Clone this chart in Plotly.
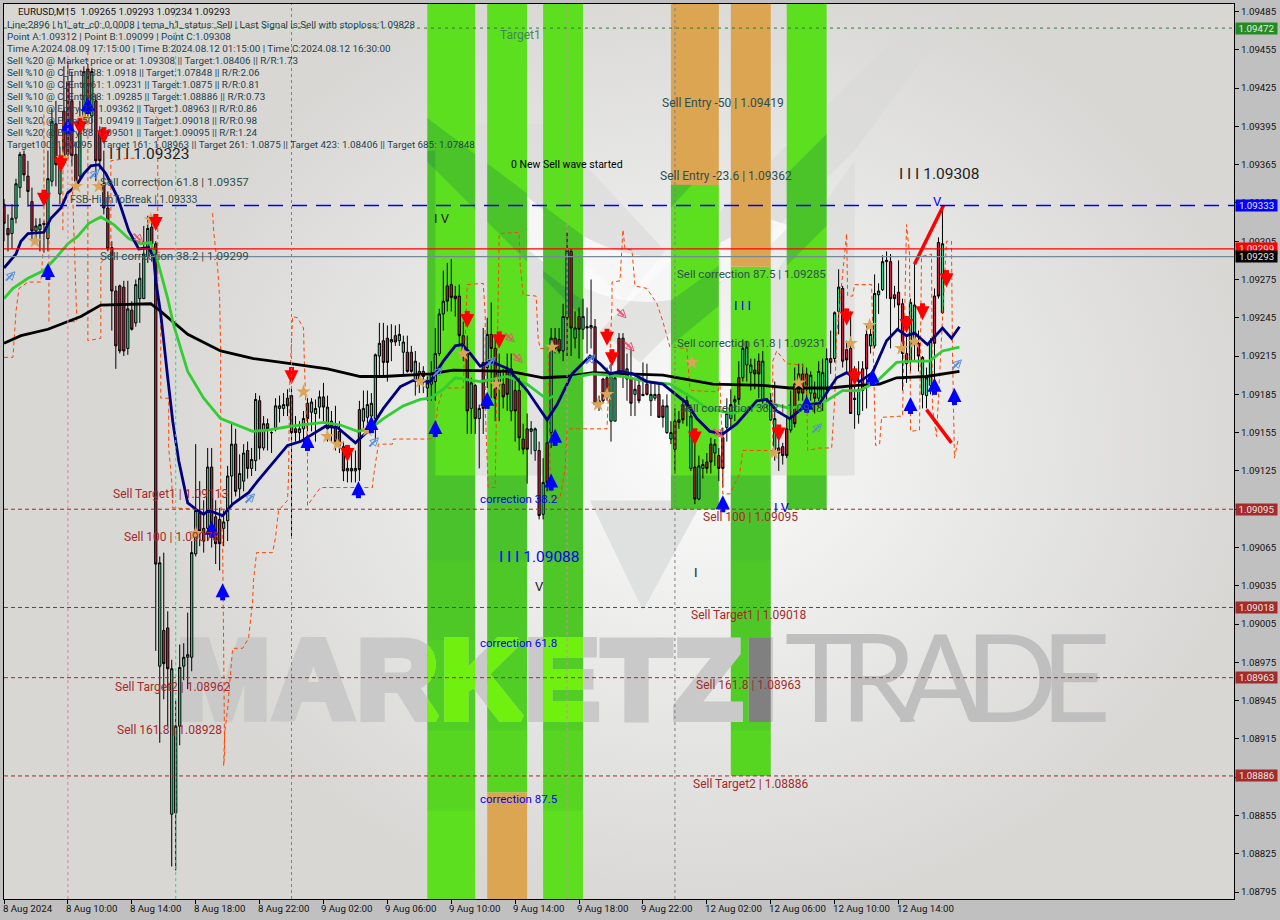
import base64
import plotly.graph_objects as go

# ---------- chart values (prices are stored as points above BASE, x as bar number) ----------
BASE = 1.08
highs = [1338,1326,1334,1354,1375,1376,1368,1347,1323,1323,1321,1376,1409,1415,1379,1442,1446,1438,1383,1415,1442,1444,1441,1420,1395,1376,1344,1305,1270,1271,
1274,1274,1258,1275,1288,1317,1325,1325,1305,1058,1061,1015,977,945,989,990,1014,1070,1146,1117,1102,1143,1143,1102,1096,1094,1129,1162,1158,1138,
1146,1148,1143,1186,1184,1168,1166,1156,1182,1184,1186,1189,1190,1168,1164,1172,1182,1182,1181,1188,1194,1184,1172,1176,1164,1148,1137,1139,1141,1180,
1188,1188,1186,1217,1241,1241,1239,1240,1239,1240,1231,1231,1223,1219,1210,1207,1199,1211,1237,1252,1282,1288,1291,1270,1271,1242,1231,1198,1193,1177,
1237,1245,1257,1232,1217,1205,1217,1217,1198,1198,1162,1170,1164,1159,1148,1135,1164,1237,1237,1237,1256,1312,1299,1250,1253,1260,1253,1275,1244,1184,
1198,1206,1209,1201,1233,1233,1217,1221,1198,1198,1210,1209,1195,1193,1193,1181,1185,1164,1174,1172,1182,1186,1177,1154,1137,1134,1139,1151,1150,1143,
1159,1182,1189,1184,1211,1228,1227,1213,1213,1217,1219,1182,1186,1195,1154,1147,1167,1188,1206,1209,1209,1206,1203,1195,1211,1213,1221,1235,1250,1283,
1270,1227,1250,1207,1211,1211,1240,1242,1279,1272,1294,1297,1295,1270,1290,1260,1232,1260,1287,1235,1215,1206,1229,1268,1308,1332,1250,1217,1266,1293]
tops = [1334,1315,1323,1350,1373,1373,1356,1336,1317,1318,1319,1354,1399,1397,1370,1407,1430,1415,1373,1397,1438,1440,1438,1415,1391,1350,1331,1300,1266,1270,
1269,1252,1251,1271,1276,1295,1315,1316,1303,1053,1000,1002,970,925,971,979,981,1061,1094,1092,1080,1128,1128,1089,1087,1085,1121,1146,1146,1123,
1139,1141,1134,1181,1180,1162,1162,1155,1176,1176,1177,1182,1184,1158,1158,1166,1178,1179,1174,1183,1183,1175,1164,1160,1156,1144,1127,1127,1127,1173,
1174,1177,1178,1216,1225,1227,1229,1228,1231,1232,1226,1218,1218,1211,1203,1203,1194,1201,1217,1248,1258,1270,1271,1262,1262,1231,1217,1194,1192,1174,
1210,1232,1232,1221,1203,1193,1205,1205,1188,1188,1150,1158,1158,1158,1141,1116,1147,1229,1229,1228,1246,1298,1297,1237,1246,1246,1238,1239,1238,1180,
1197,1198,1201,1198,1229,1229,1205,1198,1189,1192,1185,1193,1185,1185,1185,1176,1176,1155,1164,1165,1177,1180,1168,1128,1129,1130,1132,1146,1146,1137,
1151,1170,1177,1181,1198,1221,1222,1208,1204,1211,1211,1178,1180,1166,1143,1144,1158,1167,1193,1201,1201,1201,1200,1186,1203,1202,1213,1213,1249,1269,
1268,1220,1221,1182,1189,1205,1232,1232,1264,1266,1289,1290,1289,1263,1265,1256,1217,1257,1255,1225,1214,1198,1227,1262,1304,1303,1249,1210,1264,1293]
bottoms = [1319,1310,1311,1323,1347,1357,1344,1313,1313,1314,1318,1307,1352,1365,1342,1372,1373,1372,1352,1356,1401,1415,1403,1368,1368,1331,1299,1266,1223,1219,
1219,1221,1236,1241,1260,1260,1293,1303,1052,972,974,970,856,857,925,972,979,979,1060,1078,1070,1080,1082,1068,1068,1080,1086,1121,1109,1111,
1117,1127,1127,1133,1143,1143,1158,1155,1159,1174,1174,1176,1155,1155,1155,1158,1166,1171,1170,1175,1175,1158,1160,1148,1145,1125,1125,1125,1125,1126,
1164,1167,1168,1166,1215,1210,1210,1226,1226,1227,1218,1203,1203,1195,1195,1199,1190,1193,1195,1217,1248,1258,1261,1260,1231,1217,1172,1174,1166,1166,
1174,1206,1221,1182,1193,1183,1185,1172,1172,1151,1142,1142,1156,1141,1090,1091,1116,1155,1221,1219,1219,1245,1237,1229,1236,1236,1237,1237,1177,1177,
1180,1186,1164,1164,1203,1201,1197,1178,1185,1180,1184,1185,1180,1182,1167,1167,1155,1150,1142,1163,1165,1176,1127,1103,1103,1127,1127,1132,1139,1127,
1127,1159,1166,1179,1181,1198,1208,1202,1201,1201,1180,1177,1165,1142,1139,1137,1137,1157,1162,1186,1186,1192,1186,1182,1182,1182,1189,1210,1213,1250,
1211,1212,1170,1181,1169,1188,1205,1223,1223,1263,1267,1289,1260,1260,1255,1217,1209,1211,1227,1215,1185,1184,1192,1225,1262,1249,1185,1185,1211,1264]
lows = [1305,1297,1299,1319,1339,1352,1332,1305,1305,1297,1296,1297,1348,1348,1334,1364,1369,1364,1348,1352,1391,1401,1391,1352,1361,1326,1297,1235,1205,1217,
1215,1216,1235,1238,1241,1260,1288,1289,984,912,946,925,815,812,910,961,954,968,1058,1066,1061,1070,1065,1052,1047,1066,1070,1098,1105,1102,
1109,1119,1121,1125,1134,1141,1141,1139,1156,1163,1168,1168,1074,1148,1148,1145,1156,1156,1148,1166,1164,1148,1148,1141,1139,1117,1116,1116,1116,1117,
1158,1160,1160,1148,1199,1199,1195,1211,1223,1223,1199,1202,1202,1184,1186,1186,1180,1180,1180,1215,1235,1250,1250,1246,1223,1211,1154,1154,1154,1127,
1154,1190,1182,1164,1164,1174,1172,1164,1148,1141,1138,1115,1138,1133,1087,1087,1109,1143,1217,1217,1211,1215,1215,1221,1213,1228,1217,1221,1177,1172,
1178,1180,1148,1164,1201,1190,1180,1168,1168,1178,1184,1184,1168,1180,1167,1159,1154,1146,1123,1158,1162,1160,1125,1099,1102,1119,1123,1123,1129,1117,
1112,1148,1159,1164,1177,1195,1195,1188,1189,1182,1174,1174,1164,1133,1125,1130,1135,1155,1159,1180,1180,1180,1180,1170,1174,1172,1180,1201,1210,1232,
1206,1201,1170,1158,1162,1172,1174,1217,1221,1248,1266,1260,1221,1253,1235,1188,1194,1203,1211,1203,1174,1174,1185,1193,1260,1248,1168,1147,1210,1234]
colors_ud = ("RRGGGRRRGGGGGRGRRRRGGRGRRRRRRRRGRGGGGRRGRRGGGGGGGRRGRRRGGGRGGRGGRGRGGGGRRRGGRGGGRGRRRRGRGRGG"
             "GGGRRGRGGRRGRRGGGGGRRRRRRGRGRGRRGRRGRRRRGGRGRGRRGGRGRGGGRRRRGGRRGRGRGRGGRRGGRRRRGRGGRRGRRGGGRGGG"
             "RRGGGGRRRGRRRRGRGGGRGGRRRRGRRGGGGGRRRRRGGRGGGRRG")

navy_x = [0,3,4.25,6,10,11.75,14.25,16,18,20,21.75,23.75,25.5,28.5,31.25,33.75,36.25,37.5,38,39.25,41,42.25,43.75,46,48.5,50,51.25,54.75,57.25,61.25,63.5,71,74.25,78.5,80.5,83.5,88,91.75,95,99.25,102.5,106.75,110,113,114.75,116.75,119.25,121.75,126.25,131,133.5,136,138.5,142.25,146.75,149.25,151.75,154.25,157.5,161,165,171,173.5,176.75,180,183.5,188.5,191,193.5,196.75,201,204.25,208.5,211,214.25,217.5,221,223.75,226,228,231.25,235,237.25,239.25]
navy_y = [1284,1295,1305,1311,1312,1323,1331,1343,1348,1358,1364,1365,1358,1339,1313,1299,1300,1292,1274,1248,1198,1164,1133,1100,1094,1091,1094,1090,1099,1108,1117,1145,1148,1156,1160,1159,1147,1158,1174,1191,1196,1195,1211,1223,1224,1217,1207,1211,1205,1188,1177,1165,1177,1201,1215,1209,1201,1203,1201,1195,1193,1178,1166,1156,1154,1162,1180,1181,1172,1166,1177,1178,1198,1202,1195,1202,1227,1236,1231,1233,1224,1237,1229,1238]
green_x = [0,2.25,6,10,13,16,18.5,21.25,24.25,27.5,31.25,34.25,36.75,38.5,41,42.5,46,50,54.25,57.5,62.25,66,71.75,80,84.25,88.5,91.75,95,100,104.25,106.75,110,113,119.25,126,131,136,138.5,141.75,147.5,155,161,166.75,172.5,176,182.5,186,191.75,196.75,201.75,206,210,214.25,218.5,223.5,227.5,231.75,235,239.25]
green_y = [1260,1268,1276,1282,1292,1303,1309,1319,1324,1318,1307,1303,1304,1289,1260,1239,1203,1182,1166,1162,1156,1157,1160,1163,1161,1156,1158,1166,1176,1181,1182,1189,1198,1195,1199,1193,1181,1185,1198,1201,1199,1195,1193,1182,1174,1170,1174,1178,1174,1177,1180,1188,1188,1195,1210,1211,1211,1219,1222]
black_x = [0,4.25,11,15,19.25,24.25,36.75,39.25,46,54.25,62.5,71.75,81,89.25,95,106.75,112.5,126.75,135,141,147.5,165,177.5,190,196.75,206.75,213.5,219.25,223.5,231,239.25]
black_y = [1225,1231,1236,1241,1246,1255,1256,1250,1232,1219,1213,1209,1205,1199,1199,1201,1204,1203,1198,1199,1202,1200,1193,1192,1190,1190,1192,1193,1198,1199,1203]

stop_x = [0,2.25,3,3.75,6,9.25,10,10,None,11.25,11.25,None,14.75,14.75,None,16.75,18.25,16.75,None,21,21,24.25,24.25,26.75,26.75,31,33,None,36.25,38.5,38.5,39.25,39.25,41.25,41.25,42,42.25,48.5,None,
52.25,52.5,53.5,54,54.25,54.25,54.75,55,55.25,55,55.25,56,56.75,57.25,59.75,61.25,62.25,62.5,63.25,67.25,68,68.75,71,71.25,71.5,72.25,73.5,75,75.25,76,76,79.25,92.25,92.5,93.75,97.25,97.5,106.75,
108,108.5,110,115,116,120,120.5,120.5,121.25,123,124,129,129.25,130,133.25,133.75,134.25,136.25,136.75,137.25,139.25,140.5,141,151,152.25,152.25,154.25,155,155.5,157.25,158,161,163.5,165,166.75,171,171.75,172.25,178.75,179.25,179.75,180,181.75,184.25,185,192.5,192.5,193.5,196,200,201,201.25,204.25,207.25,208,208.5,211,211.25,212.5,213,217.25,217.5,218,218.25,219.25,219.75,225,226,226.75,227,229.25,229.75,232.25,232.5,233.5,236,237.25,237.5,238,239]
stop_y = [1214,1214,1250,1268,1273,1273,1309,1407,None,1242,1313,None,1399,1313,None,1383,1242,1242,None,1454,1227,1229,1288,1297,1368,1370,1370,None,1412,1401,1258,1248,1182,1182,1143,1117,1096,1095,None,
1327,1313,1284,1260,1219,1102,1068,963,903,894,919,939,966,986,986,994,1023,1040,1061,1061,1073,1094,1102,1120,1190,1246,1245,1237,1206,1143,1098,1112,1112,1120,1146,1146,1150,1150,
1151,1174,1190,1190,1271,1272,1248,1174,1112,1112,1311,1312,1287,1263,1262,1229,1221,1221,1120,1103,1104,1127,1158,1158,1256,1273,1274,1314,1299,1298,1270,1268,1256,1242,1222,1221,1189,1188,1187,1195,1154,1107,1107,1123,1141,1141,1211,1219,1209,1208,1190,1141,1143,1143,1180,1232,1311,1262,1262,1271,1271,1237,1180,1145,1146,1167,1168,1318,1295,1156,1157,1293,1295,1174,1152,1305,1305,1219,1135,1151]

sell_x = [10,14.25,19,25,38,72,86,116,124,151,152.25,173,194,211,213,226,230,236]
sell_y = [1338,1365,1394,1387,1319,1199,1138,1243,1227,1229,1213,1151,1154,1245,1198,1239,1249,1275]
buy_x = [11,16,21,52,54.75,76,88.75,92,108,121,138,137,180,201,217.5,227,233,238]
buy_y = [1282,1396,1412,1080,1031,1148,1111,1162,1159,1181,1152,1117,1100,1178,1199,1177,1192,1184]
hollow_up_x = [1.75,22.75,61.75,92.75,108.75,122,147,203.75,238.75]
hollow_up_y = [1278,1358,1104,1148,1203,1211,1213,1159,1209]
hollow_dn_x = [33.75,126.75,128.75,154.75,156.75,179]
hollow_dn_y = [1307,1229,1213,1248,1222,1154]
star_x = [7.75,14.75,18,20,23.75,36.75,48,75,81,83.5,91,104.25,115,123.25,137.25,148.75,151,172.25,192.75,199,216.75,212,224.75,228]
star_y = [1305,1370,1348,1401,1348,1322,1076,1187,1152,1146,1157,1195,1217,1193,1222,1177,1185,1210,1139,1194,1239,1225,1221,1226]
wave_up_x, wave_up_y = [228,235.25], [1287,1333]
wave_dn_x, wave_dn_y = [231,237.25], [1173,1147]

tick_prices = [1.09485,1.09455,1.09425,1.09395,1.09365,1.09335,1.09305,1.09275,1.09245,1.09215,1.09185,1.09155,1.09125,1.09095,1.09065,1.09035,1.09005,1.08975,1.08945,1.08915,1.08885,1.08855,1.08825,1.08795]
time_labels = ["8 Aug 2024","8 Aug 10:00","8 Aug 14:00","8 Aug 18:00","8 Aug 22:00","9 Aug 02:00","9 Aug 06:00","9 Aug 10:00","9 Aug 14:00","9 Aug 18:00","9 Aug 22:00","12 Aug 02:00","12 Aug 06:00","12 Aug 10:00","12 Aug 14:00"]
h_levels = [(1.09472,"#2e7d32","3px,4px",1),(1.09333,"#0000ff","15px,9px",1.6),(1.09299,"#ff0000","solid",1.2),(1.09293,"#778899","solid",1.2),
            (1.09095,"#a52a2a","4px,3px",1),(1.09018,"#a52a2a","4px,3px",1),(1.08963,"#a52a2a","4px,3px",1),(1.08886,"#a52a2a","4px,3px",1)]
v_levels = [(16,"#e87ca8"),(43,"#2ad68a"),(72,"#808080"),(141,"#e87ca8"),(168,"#808080")]
price_tags = [(1.09472,"#228b22"),(1.09333,"#0000ff"),(1.09299,"#ff0000"),(1.09293,"#000000"),(1.09095,"#a52a2a"),(1.09018,"#a52a2a"),(1.08963,"#a52a2a"),(1.08886,"#a52a2a")]
# zones: bar from, bar to, price from, price to, colour
GREEN, ORANGE = "#5cdf1e", "#dca552"
zones = [(106,118,1.0878958,1.0949087,GREEN),(121,131,1.08873,1.0949087,GREEN),(121,131,1.0878958,1.08873,ORANGE),(135,145,1.0878958,1.0949087,GREEN),
         (167,179,1.09095,1.09349,GREEN),(167,179,1.09349,1.0949087,ORANGE),(182,192,1.08886,1.09285,GREEN),(182,192,1.09285,1.0949087,ORANGE),(196,206,1.09095,1.0949087,GREEN)]

info_lines = ["Line:2896 | h1_atr_c0: 0.0008 | tema_h1_status: Sell | Last Signal is:Sell with stoploss:1.09828",
"Point A:1.09312 | Point B:1.09099 | Point C:1.09308",
"Time A:2024.08.09 17:15:00 | Time B:2024.08.12 01:15:00 | Time C:2024.08.12 16:30:00",
"Sell %20 @ Market price or at: 1.09308 || Target:1.08406 || R/R:1.73",
"Sell %10 @ C_Entry38: 1.0918 || Target:1.07848 || R/R:2.06",
"Sell %10 @ C_Entry61: 1.09231 || Target:1.0875 || R/R:0.81",
"Sell %10 @ C_Entry88: 1.09285 || Target:1.08886 || R/R:0.73",
"Sell %10 @ Entry-23: 1.09362 || Target:1.08963 || R/R:0.86",
"Sell %20 @ Entry-50: 1.09419 || Target:1.09018 || R/R:0.98",
"Sell %20 @ Entry-88: 1.09501 || Target:1.09095 || R/R:1.24",
"Target100: 1.09095 || Target 161: 1.08963 || Target 261: 1.0875 || Target 423: 1.08406 || Target 685: 1.07848"]
SLATE, BROWN, BLUE = "#2f4f4f", "#a52a2a", "#0000ff"
labels = [("Target1",499,34,12,"#3d8b57"),("Sell Entry -50 | 1.09419",661,102,12,SLATE),("Sell Entry -23.6 | 1.09362",659,175,12,SLATE),
("0 New Sell wave started",510,164,10.5,"#000000"),("I I I 1.09323",107,153,15.5,"#222222"),("I I I 1.09308",898,173,15.5,"#222222"),
("I V",433,218,13,"#222222"),("I I I",733,305,13,BLUE),("I V",773,507,13,BLUE),("V",534,586,13,"#222222"),("I",693,572,13,"#222222"),("V",933,201,13,BLUE),
("I I I 1.09088",498,557,15.5,BLUE),
("Sell correction 61.8 | 1.09357",98,181,11.5,SLATE),("FSB-HighToBreak | 1.09333",68,199,10.5,SLATE),("Sell correction 38.2 | 1.09299",98,255,11.5,SLATE),
("Sell correction 87.5 | 1.09285",676,273,11.5,SLATE),("Sell correction 61.8 | 1.09231",676,342,11.5,SLATE),("Sell correction 38.2 | 1.0918",679,407,11.5,SLATE),
("correction 38.2",479,499,11.5,BLUE),("correction 61.8",479,643,11.5,BLUE),("correction 87.5",479,799,11.5,BLUE),
("Sell Target1 | 1.09113",111,494,12,BROWN),("Sell 100 | 1.09078",122,537,12,BROWN),("Sell Target2 | 1.08962",113,687,12,BROWN),("Sell 161.8 | 1.08928",115,730,12,BROWN),
("Sell 100 | 1.09095",702,517,12,BROWN),("Sell Target1 | 1.09018",690,615,12,BROWN),("Sell 161.8 | 1.08963",695,685,12,BROWN),("Sell Target2 | 1.08886",692,784,12,BROWN)]

# ---------- frame ----------
W, H = 1280, 920
L, R, T, B = 3, 1235, 3, 899
YR = [1.0878958, 1.0949087]
XR = [0, 308]
FONT = "Roboto"
def pts(v): return [None if a is None else BASE + a / 1e5 for a in v]
def fx(p): return (p - L) / (R - L)
def fy(p): return 1 - (p - T) / (B - T)
def ax_x(p): return (p - L) / 4
def ax_y(p): return YR[1] - (p - T) * (YR[1] - YR[0]) / (B - T)

# ---------- background picture (no marks, only the terminal's paper and logo) ----------
svg = f'''<svg xmlns="http://www.w3.org/2000/svg" width="{R-L}" height="{B-T}" viewBox="3 3 {R-L} {B-T}">
<defs><radialGradient id="g" gradientUnits="userSpaceOnUse" cx="0" cy="0" r="1" gradientTransform="translate(700 440) scale(560 480)">
<stop offset="0" stop-color="#fcfcfc"/><stop offset="0.55" stop-color="#e7e7e6"/><stop offset="1" stop-color="#d8d7d4"/></radialGradient></defs>
<rect x="0" y="0" width="1300" height="920" fill="url(#g)"/>
<polygon points="435,150 458,123 547,123 665,250 625,300 546,225 546,475 435,475" fill="#dcdcdb" opacity="0.7"/>
<polygon points="735,475 735,330 855,160 855,475" fill="#dcdcdb" opacity="0.75"/>
<polygon points="960,8 925,8 600,330 640,362 855,150" fill="#d8d8d7" opacity="0.6"/>
<polygon points="590,500 703,500 643,610" fill="#dfe0e0"/>
<path d="M490 160 Q640 320 760 215 L790 225 Q640 385 490 210 Z" fill="#ffffff" opacity="0.7"/>
</svg>'''
svg_src = "data:image/svg+xml;base64," + base64.b64encode(svg.encode()).decode()

fig = go.Figure()

# ---------- watermark, real text: grey base, then copies clipped to the zones it crosses ----------
def wm_text(col):
    return f'<span style="letter-spacing:3px;stroke:{col};stroke-width:8px;stroke-linejoin:miter">MARKETZI</span>'
WM2 = '<span style="letter-spacing:-17px">TRADE</span>'
WM_X, WM_Y = ax_x(176), ax_y(690)
WM_FONT = dict(family="Liberation Sans", size=112, weight="bold")
fig.add_trace(go.Scatter(x=[WM_X], y=[WM_Y], mode="text", text=[wm_text("#c9c9c9")], textposition="middle right",
                         textfont=dict(color="#c9c9c9", **WM_FONT), hoverinfo="skip", xaxis="x", yaxis="y"))
fig.add_trace(go.Scatter(x=[ax_x(785)], y=[ax_y(691)], mode="text", text=[WM2], textposition="middle right",
                         textfont=dict(family="Lato", size=122, color="#bfbfbf"), hoverinfo="skip", xaxis="x", yaxis="y"))
clip_zones = [(427,475,"#6ff00f"),(487,527,"#6ff00f"),(543,583,"#6ff00f"),(748,771,"#808080")]
layout_axes = {}
for n, (p0, p1, col) in enumerate(clip_zones, start=2):
    fig.add_trace(go.Scatter(x=[WM_X], y=[WM_Y], mode="text", text=[wm_text(col)], textposition="middle right",
                             textfont=dict(color=col, **WM_FONT), hoverinfo="skip",
                             xaxis=f"x{n}", yaxis=f"y{n}"))
    layout_axes[f"xaxis{n}"] = dict(domain=[fx(p0), fx(p1)], range=[ax_x(p0), ax_x(p1)], visible=False, anchor=f"y{n}", fixedrange=True)
    layout_axes[f"yaxis{n}"] = dict(domain=[0, 1], range=YR, visible=False, anchor=f"x{n}", fixedrange=True)

# ---------- main candles and lines on the top subplot ----------
MX, MY = "x6", "y6"
is_up = [c == "G" for c in colors_ud]
opens = [b if u else t for u, t, b in zip(is_up, tops, bottoms)]
closes = [t if u else b for u, t, b in zip(is_up, tops, bottoms)]
bars = list(range(len(highs)))
fig.add_trace(go.Candlestick(x=bars, open=pts(opens), high=pts(highs), low=pts(lows), close=pts(closes),
    increasing=dict(fillcolor="#30d98a", line=dict(color="#000000", width=1)),
    decreasing=dict(fillcolor="#c4213c", line=dict(color="#000000", width=1)),
    whiskerwidth=0, hoverinfo="skip", xaxis=MX, yaxis=MY))
fig.add_trace(go.Scatter(x=stop_x, y=pts(stop_y), mode="lines", line=dict(color="#ff4500", width=1, dash="4px,3px"), hoverinfo="skip", xaxis=MX, yaxis=MY))
fig.add_trace(go.Scatter(x=black_x, y=pts(black_y), mode="lines", line=dict(color="#000000", width=2.8), hoverinfo="skip", xaxis=MX, yaxis=MY))
fig.add_trace(go.Scatter(x=green_x, y=pts(green_y), mode="lines", line=dict(color="#32cd32", width=2.8), hoverinfo="skip", xaxis=MX, yaxis=MY))
fig.add_trace(go.Scatter(x=navy_x, y=pts(navy_y), mode="lines", line=dict(color="#000080", width=2.8), hoverinfo="skip", xaxis=MX, yaxis=MY))
for xs, ys in ((wave_up_x, wave_up_y), (wave_dn_x, wave_dn_y)):
    fig.add_trace(go.Scatter(x=xs, y=pts(ys), mode="lines", line=dict(color="#ff0000", width=3.5), hoverinfo="skip", xaxis=MX, yaxis=MY))
def markers(xs, ys, sym, size, col, angle=0, lw=0, dx=0, dy=0):
    fig.add_trace(go.Scatter(x=[a + dx for a in xs], y=pts([a + dy for a in ys]), mode="markers", hoverinfo="skip", xaxis=MX, yaxis=MY,
        marker=dict(symbol=sym, size=size, color=col, angle=angle, line=dict(color=col, width=lw))))
markers(star_x, star_y, "star", 11, "#d9a55b")
# signal arrows: a stem and a head, placed around each reading
markers(sell_x, sell_y, "line-ns", 8, "#ff0000", 0, 5, dy=3)
markers(sell_x, sell_y, "arrow-down", 14, "#ff0000", dy=-6)
markers(buy_x, buy_y, "line-ns", 8, "#0000ff", 0, 5, dy=-3)
markers(buy_x, buy_y, "arrow-up", 14, "#0000ff", dy=6)
markers(hollow_up_x, hollow_up_y, "line-ns", 7, "#5a8fd8", 45, 2, dx=-0.4, dy=-1.2)
markers(hollow_up_x, hollow_up_y, "arrow-up-open", 8, "#5a8fd8", 45, 1, dx=1, dy=3)
markers(hollow_dn_x, hollow_dn_y, "line-ns", 7, "#f2506e", 135, 2, dx=-0.4, dy=1.2)
markers(hollow_dn_x, hollow_dn_y, "arrow-up-open", 8, "#f2506e", 135, 1, dx=1, dy=-3)

# ---------- zones, drawn in the lowest subplot so the text and candles stay above them ----------
shapes = []
for x0, x1, y0, y1, col in zones:
    shapes.append(dict(type="rect", xref="x", yref="y", x0=x0, x1=x1, y0=y0, y1=y1, fillcolor=col, line_width=0, layer="below"))

def clip_poly(poly, x0, x1, y0, y1):
    def clip(pl, inside, cross):
        out = []
        for i, a in enumerate(pl):
            b = pl[(i + 1) % len(pl)]
            if inside(a):
                out.append(a)
            if inside(a) != inside(b):
                out.append(cross(a, b))
        return out
    cx = lambda v: (lambda a, b: (v, a[1] + (b[1] - a[1]) * (v - a[0]) / (b[0] - a[0])))
    cy = lambda v: (lambda a, b: (a[0] + (b[0] - a[0]) * (v - a[1]) / (b[1] - a[1]), v))
    for ins, cr in ((lambda p: p[0] >= x0, cx(x0)), (lambda p: p[0] <= x1, cx(x1)), (lambda p: p[1] >= y0, cy(y0)), (lambda p: p[1] <= y1, cy(y1))):
        if poly:
            poly = clip(poly, ins, cr)
    return poly

green_zones_px = [(427,475,3,899),(487,527,3,792),(543,583,3,899),(671,719,184,509),(731,771,266,776),(787,827,3,509)]
shade_polys = [([(427,117),(600,248),(600,334),(427,161)],.2),([(427,150),(435,150),(435,475),(427,475)],.2),([(543,270),(583,300),(583,475),(543,475)],.2),
               ([(671,345),(719,305),(719,265),(671,300)],.2),([(671,207),(692,184),(671,184)],.2),([(787,173),(827,133),(827,225),(787,265)],.2),
               ([(400,475),(850,475),(850,560),(400,560)],.22),([(400,560),(850,560),(850,640),(400,640)],.17),([(400,640),(850,640),(850,730),(400,730)],.12),([(400,730),(850,730),(850,810),(400,810)],.07)]
for poly, alpha in shade_polys:
    for zx0, zx1, zy0, zy1 in green_zones_px:
        clipped = clip_poly(poly, zx0, zx1, zy0, zy1)
        if len(clipped) >= 3:
            path = "M" + " L".join(f"{ax_x(px):.3f},{ax_y(py):.6f}" for px, py in clipped) + " Z"
            shapes.append(dict(type="path", xref="x", yref="y", path=path, fillcolor=f"rgba(10,90,90,{alpha})", line_width=0, layer="below"))

for price, col, dash, w in h_levels:
    shapes.append(dict(type="line", xref=f"{MX} domain", yref=MY, x0=0, x1=1, y0=price, y1=price, line=dict(color=col, width=w, dash=dash), layer="above"))
for bar, col in v_levels:
    shapes.append(dict(type="line", xref=MX, yref=f"{MY} domain", x0=bar, x1=bar, y0=0, y1=1, line=dict(color=col, width=1, dash="3px,3px"), layer="above"))

# ---------- texts ----------
ann = []
def put(text, px, py, size, col, anchor="left", **kw):
    ann.append(dict(text=text, xref="paper", yref="paper", x=fx(px), y=fy(py), xanchor=anchor, yanchor="middle", showarrow=False,
                    font=dict(family=FONT, size=size, color=col), borderpad=0, **kw))
put("EURUSD,M15  1.09265 1.09293 1.09234 1.09293", 16, 10.7, 9.8, "#111111")
for n, line in enumerate(info_lines):
    put(line, 5, 23.5 + n * 12.0, 9.85, "#1f3f50")
for text, px, py, size, col in labels:
    put(text, px, py, size, col)
for n, t in enumerate(time_labels):
    put(t, L - 3 + n * 64 if n else L - 2, 909, 9.7, "#111111")
for price, col in price_tags:
    py = T + (YR[1] - price) / (YR[1] - YR[0]) * (B - T)
    ann.append(dict(text=f"{price:.5f}", xref="paper", yref="paper", x=fx(1236), y=fy(py), xanchor="left", yanchor="middle", showarrow=False,
                    font=dict(family=FONT, size=9.7, color="#e8e8e8"), bgcolor=col, width=41, height=11, align="center", borderpad=0))

fig.update_layout(
    width=W, height=H, autosize=False, margin=dict(l=L, r=W - R, t=T, b=H - B, pad=0),
    paper_bgcolor="#c0c0c0", plot_bgcolor="rgba(0,0,0,0)", showlegend=False, hovermode=False, dragmode=False, boxgap=0.2,
    xaxis=dict(domain=[0, 1], range=XR, visible=False, anchor="y", fixedrange=True),
    yaxis=dict(domain=[0, 1], range=YR, visible=False, anchor="x", fixedrange=True),
    xaxis6=dict(domain=[0, 1], range=XR, anchor="y6", fixedrange=True, rangeslider=dict(visible=False), showgrid=False, zeroline=False,
                tickmode="array", tickvals=[n * 16 for n in range(len(time_labels))], ticktext=[""] * len(time_labels), ticks="outside", ticklen=4, tickcolor="#000000",
                showline=True, linecolor="#000000", linewidth=1, mirror=True),
    yaxis6=dict(domain=[0, 1], range=YR, anchor="x6", side="right", fixedrange=True, showgrid=False, zeroline=False,
                tickmode="array", tickvals=tick_prices, ticktext=[f"{v:.5f}" for v in tick_prices], ticks="outside", ticklen=4, tickcolor="#000000",
                tickfont=dict(family=FONT, size=9.7, color="#111111"), showline=True, linecolor="#000000", linewidth=1, mirror=True),
    images=[dict(source=svg_src, xref="paper", yref="paper", x=0, y=1, sizex=1, sizey=1, sizing="stretch", layer="below", xanchor="left", yanchor="top")],
    shapes=shapes, annotations=ann, **layout_axes)

fig.write_html("out.html", config=dict(displayModeBar=False),
               post_script="document.body.style.margin='0';document.body.style.overflow='hidden';")
